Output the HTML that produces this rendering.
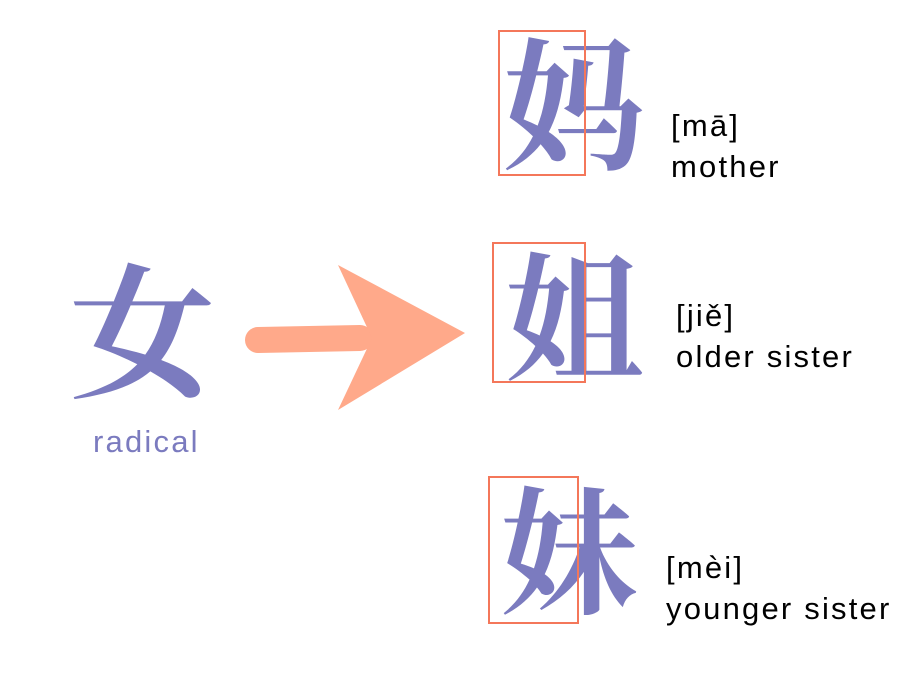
<!DOCTYPE html>
<html><head><meta charset="utf-8"><style>
body{margin:0;width:900px;height:700px;background:#fff;position:relative;overflow:hidden}
.c{position:absolute;line-height:1;color:#7b7bbf;font-family:"Liberation Serif","Noto Serif CJK SC",serif;font-weight:700}
.b{position:absolute;border:2px solid #f4775a;box-sizing:border-box}
.t{position:absolute;font-family:"Liberation Sans",sans-serif;font-size:31px;letter-spacing:2.2px;line-height:1;color:#000}
</style></head><body>
<div class="c" style="left:70px;top:266px;font-size:145px">女</div>
<div class="t" style="left:93px;top:426px;color:#7b7bbf">radical</div>
<svg style="position:absolute;left:0;top:0" width="900" height="700">
<line x1="258" y1="340" x2="360" y2="338" stroke="#ffa98a" stroke-width="26" stroke-linecap="round"/>
<polygon points="338,265 465,333 338,410 372,338" fill="#ffa98a"/>
</svg>
<div class="c" style="left:503px;top:39px;font-size:142px">妈</div>
<div class="b" style="left:498px;top:30px;width:88px;height:146px"></div>
<div class="t" style="left:671px;top:110px">[mā]</div>
<div class="t" style="left:671px;top:151px">mother</div>
<div class="c" style="left:505px;top:254px;font-size:138px">姐</div>
<div class="b" style="left:492px;top:242px;width:94px;height:141px"></div>
<div class="t" style="left:676px;top:300px">[jiě]</div>
<div class="t" style="left:676px;top:341px">older sister</div>
<div class="c" style="left:500px;top:488px;font-size:138px">妹</div>
<div class="b" style="left:488px;top:476px;width:91px;height:148px"></div>
<div class="t" style="left:666px;top:552px">[mèi]</div>
<div class="t" style="left:666px;top:593px">younger sister</div>
</body></html>
